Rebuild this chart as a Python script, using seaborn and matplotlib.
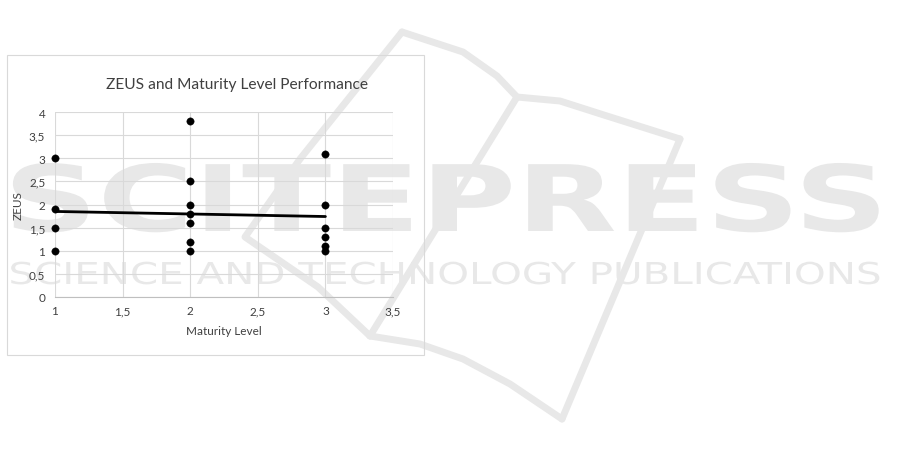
import matplotlib
matplotlib.use("Agg")
import matplotlib.pyplot as plt
import seaborn as sns
import pandas as pd
from matplotlib.patches import Rectangle
from matplotlib.lines import Line2D
from matplotlib.transforms import Affine2D
from matplotlib.patheffects import AbstractPathEffect

# values
maturity_level = [1, 1, 1, 1,
                  2, 2, 2, 2, 2, 2, 2,
                  3, 3, 3, 3, 3, 3]
zeus_score = [3.0, 1.9, 1.5, 1.0,
              3.8, 2.5, 2.0, 1.8, 1.6, 1.2, 1.0,
              3.1, 2.0, 1.5, 1.3, 1.1, 1.0]
# linear trendline (as drawn in the chart)
trend_x = [1, 3]
trend_y = [1.85, 1.74]

x_ticks = [1, 1.5, 2, 2.5, 3, 3.5]
y_ticks = [0, 0.5, 1, 1.5, 2, 2.5, 3, 3.5, 4]

W, H = 901, 460


class HStretch(AbstractPathEffect):
    """widen text horizontally around a given x (display px)"""
    def __init__(self, sx, cx):
        super().__init__()
        self.sx, self.cx = sx, cx

    def draw_path(self, renderer, gc, tpath, affine, rgbFace=None):
        t = affine + Affine2D().translate(-self.cx, 0).scale(self.sx, 1).translate(self.cx, 0)
        renderer.draw_path(gc, tpath, t, rgbFace)


def px(x, y):
    return x / W, 1 - y / H


sns.set_theme(style="whitegrid")
plt.rcParams["font.family"] = ["Lato", "DejaVu Sans"]

fig = plt.figure(figsize=(W / 100, H / 100), dpi=100)
fig.patch.set_facecolor("white")

# faint publisher watermark behind the page content
wm = "#e8e8e8"
book = [
    [(402, 33), (300, 160), (245, 238), (318, 288), (370, 337)],
    [(402, 33), (463, 53), (497, 77), (517, 98), (560, 102), (607, 117), (680, 140)],
    [(517, 98), (370, 337)],
    [(680, 140), (562, 420)],
    [(370, 337), (420, 345), (463, 360), (510, 385), (562, 420)],
]
for seg in book:
    xs = [p[0] / W for p in seg]
    ys = [1 - p[1] / H for p in seg]
    fig.add_artist(Line2D(xs, ys, transform=fig.transFigure, color=wm,
                          linewidth=5, solid_capstyle="round",
                          solid_joinstyle="round", zorder=-6))

fig.text(*px(446, 232), "SCITEPRESS", ha="center", va="baseline",
         fontsize=66, fontweight="bold", color=wm, zorder=-5,
         family=["DejaVu Sans"], path_effects=[HStretch(1.425, 446)])
fig.text(*px(446, 285), "SCIENCE AND TECHNOLOGY PUBLICATIONS",
         ha="center", va="baseline", fontsize=21.7, color=wm, zorder=-5,
         family=["DejaVu Sans"], path_effects=[HStretch(1.34, 446)])

# chart frame
fig.add_artist(Rectangle(px(7, 356), 417 / W, 300 / H,
                         transform=fig.transFigure, fill=False,
                         edgecolor="#d9d9d9", linewidth=0.8, zorder=1))

ax = fig.add_axes([55 / W, 1 - 298 / H, 338 / W, 185 / H])
ax.patch.set_alpha(0)

df = pd.DataFrame({"Maturity Level": maturity_level, "ZEUS": zeus_score})
sns.scatterplot(data=df, x="Maturity Level", y="ZEUS", ax=ax,
                color="black", s=28, edgecolor="black", linewidth=0.3,
                zorder=4, clip_on=False)
sns.lineplot(x=trend_x, y=trend_y, ax=ax, color="black", linewidth=2.0,
             zorder=3)

ax.set_xlim(1, 3.5)
ax.set_ylim(0, 4)
ax.set_xticks(x_ticks)
ax.set_yticks(y_ticks)
fmt = lambda v: (f"{v:g}").replace(".", ",")
ax.set_xticklabels([fmt(v) for v in x_ticks])
ax.set_yticklabels([fmt(v) for v in y_ticks])

ax.grid(True, color="#d9d9d9", linewidth=0.8)
for side in ["top", "right", "left"]:
    ax.spines[side].set_visible(False)
ax.spines["bottom"].set_color("#bfbfbf")
ax.spines["bottom"].set_linewidth(0.8)

ax.tick_params(axis="x", pad=6, labelsize=8.5, colors="#404040", length=0)
ax.tick_params(axis="y", pad=7, labelsize=8.5, colors="#404040", length=0)
ax.set_xlabel("Maturity Level", fontsize=8.5, color="#404040", labelpad=6)
ax.set_ylabel("ZEUS", fontsize=8.5, color="#404040", labelpad=4)

fig.text(*px(237, 85), "ZEUS and Maturity Level Performance",
         ha="center", va="center", fontsize=11.2, color="#404040")

fig.savefig("out.png", dpi=100)
